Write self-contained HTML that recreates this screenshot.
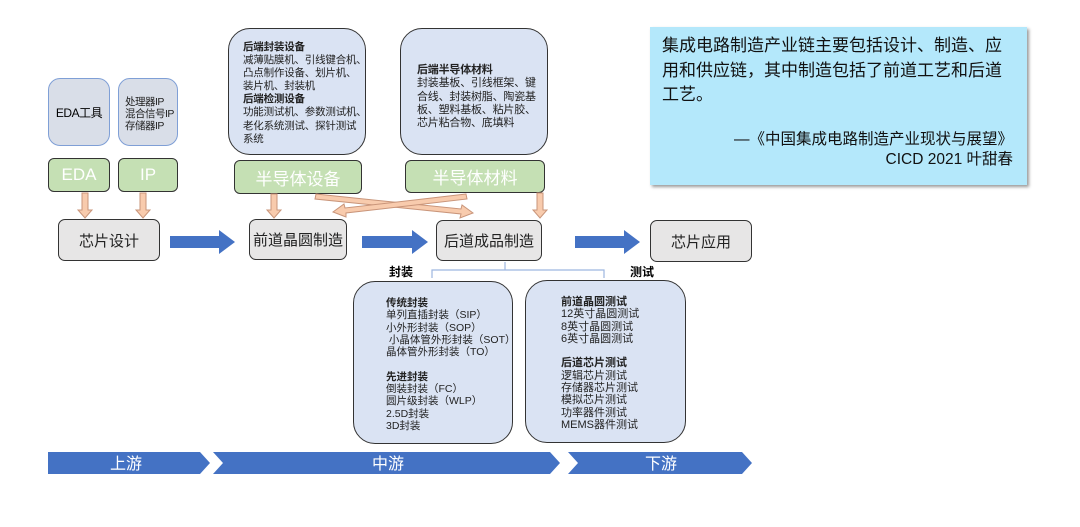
<!DOCTYPE html>
<html><head><meta charset="utf-8"><style>
body{margin:0;width:1080px;height:527px;background:#fff;position:relative;overflow:hidden;font-family:"Liberation Sans","Noto Sans CJK SC",sans-serif;}
.a{position:absolute;box-sizing:border-box;}
.blue{background:#dae3f3;border:1.5px solid #333;border-radius:22px;}
.bl2{background:#d9dee8;border:1.5px solid #7f9fd6;border-radius:12px;}
.green{background:#c5e0b4;border:1.5px solid #333;border-radius:6px;color:#fff;display:flex;align-items:center;justify-content:center;}
.gray{background:#e7e6e6;border:1.5px solid #333;border-radius:7px;display:flex;align-items:center;justify-content:center;font-size:15px;color:#222;}
.t{font-size:10.5px;line-height:12.3px;color:#222;white-space:nowrap;}
.t b{font-weight:bold;}
</style></head><body>
<div class="a bl2" style="left:48px;top:78px;width:62px;height:68px;display:flex;align-items:center;justify-content:center;font-size:12px;letter-spacing:-0.5px;">EDA工具</div>
<div class="a bl2 t" style="left:118px;top:78px;width:60px;height:68px;padding:17px 0 0 6px;line-height:12px;font-size:10.5px;letter-spacing:-0.5px;">处理器IP<br>混合信号IP<br>存储器IP</div>
<div class="a green" style="left:48px;top:158px;width:62px;height:34px;font-size:17px;">EDA</div>
<div class="a green" style="left:118px;top:158px;width:60px;height:34px;font-size:17px;">IP</div>
<div class="a blue t" style="left:228px;top:28px;width:138px;height:127px;padding:12px 0 0 14px;font-size:10.5px;line-height:13.1px;letter-spacing:-0.2px;"><b>后端封装设备</b><br>减薄贴膜机、引线键合机、<br>凸点制作设备、划片机、<br>装片机、封装机<br><b>后端检测设备</b><br>功能测试机、参数测试机、<br>老化系统测试、探针测试<br>系统</div>
<div class="a blue t" style="left:400px;top:28px;width:148px;height:127px;padding:35px 0 0 16px;font-size:11px;line-height:13.3px;letter-spacing:-0.2px;"><b>后端半导体材料</b><br>封装基板、引线框架、键<br>合线、封装树脂、陶瓷基<br>板、塑料基板、粘片胶、<br>芯片粘合物、底填料</div>
<div class="a green" style="left:234px;top:160px;width:128px;height:34px;font-size:17px;">半导体设备</div>
<div class="a green" style="left:405px;top:160px;width:140px;height:33px;font-size:17px;">半导体材料</div>
<svg class="a" style="left:0;top:0" width="1080" height="527">
<g fill="#f8cbad" stroke="#c9957a" stroke-width="1">
<path d="M82 193h6v17h4l-7 8-7-8h4z"/><path d="M140 193h6v17h4l-7 8-7-8h4z"/>
<path d="M271 194h6v16h4l-7 8-7-8h4z"/><path d="M537 193h6v17h4l-7 8-7-8h4z"/>
<path d="M316 194L461 209l1-4 11 8-13 5 1-4L315 199z"/>
<path d="M466 194L345 208l-1-4-11 8 13 5 0-4L467 199z"/>
</g>
<g fill="#4472c4">
<path d="M170 236h49v-6l16 12-16 12v-6h-49z"/>
<path d="M362 236h50v-6l16 12-16 12v-6h-50z"/>
<path d="M575 236h49v-6l16 12-16 12v-6h-49z"/>
<path d="M48 452h152l10 11-10 11H48z"/>
<path d="M213 452h337l10 11-10 11H213l10-11z"/>
<path d="M568 452h174l10 11-10 11H568l10-11z"/>
</g>
<path d="M505 262v8M432 278v-8h172v8" fill="none" stroke="#9db6e0" stroke-width="1.2"/>
<g fill="#fff" font-size="16" font-family="Liberation Sans,Noto Sans CJK SC,sans-serif">
<text x="110" y="469">上游</text><text x="372" y="469">中游</text><text x="645" y="469">下游</text></g>
</svg>
<div class="a gray" style="left:58px;top:219px;width:102px;height:42px;">芯片设计</div>
<div class="a gray" style="left:249px;top:219px;width:98px;height:41px;">前道晶圆制造</div>
<div class="a gray" style="left:436px;top:220px;width:106px;height:41px;">后道成品制造</div>
<div class="a gray" style="left:650px;top:220px;width:102px;height:42px;">芯片应用</div>
<div class="a" style="left:389px;top:263px;font-size:12px;font-weight:bold;">封装</div>
<div class="a" style="left:630px;top:263px;font-size:12px;font-weight:bold;">测试</div>
<div class="a blue t" style="left:353px;top:281px;width:160px;height:163px;padding:15px 0 0 32px;font-size:10.5px;"><b>传统封装</b><br>单列直插封装（SIP）<br>小外形封装（SOP）<br>&nbsp;小晶体管外形封装（SOT）<br>晶体管外形封装（TO）<br><br><b>先进封装</b><br>倒装封装（FC）<br>圆片级封装（WLP）<br>2.5D封装<br>3D封装</div>
<div class="a blue t" style="left:525px;top:280px;width:161px;height:163px;padding:15px 0 0 35px;font-size:11px;"><b>前道晶圆测试</b><br>12英寸晶圆测试<br>8英寸晶圆测试<br>6英寸晶圆测试<br><br><b>后道芯片测试</b><br>逻辑芯片测试<br>存储器芯片测试<br>模拟芯片测试<br>功率器件测试<br>MEMS器件测试</div>
<div class="a" style="left:650px;top:27px;width:377px;height:158px;background:#b4e8fb;box-shadow:2px 2px 3px #999;padding:7px 10px 0 12px;font-size:17px;line-height:24.5px;color:#111;">集成电路制造产业链主要包括设计、制造、应用和供应链，其中制造包括了前道工艺和后道工艺。<div style="text-align:right;margin-top:22px;line-height:20px;font-size:15.5px;padding-right:4px;">—《中国集成电路制造产业现状与展望》<br>CICD 2021 叶甜春</div></div>
</body></html>
